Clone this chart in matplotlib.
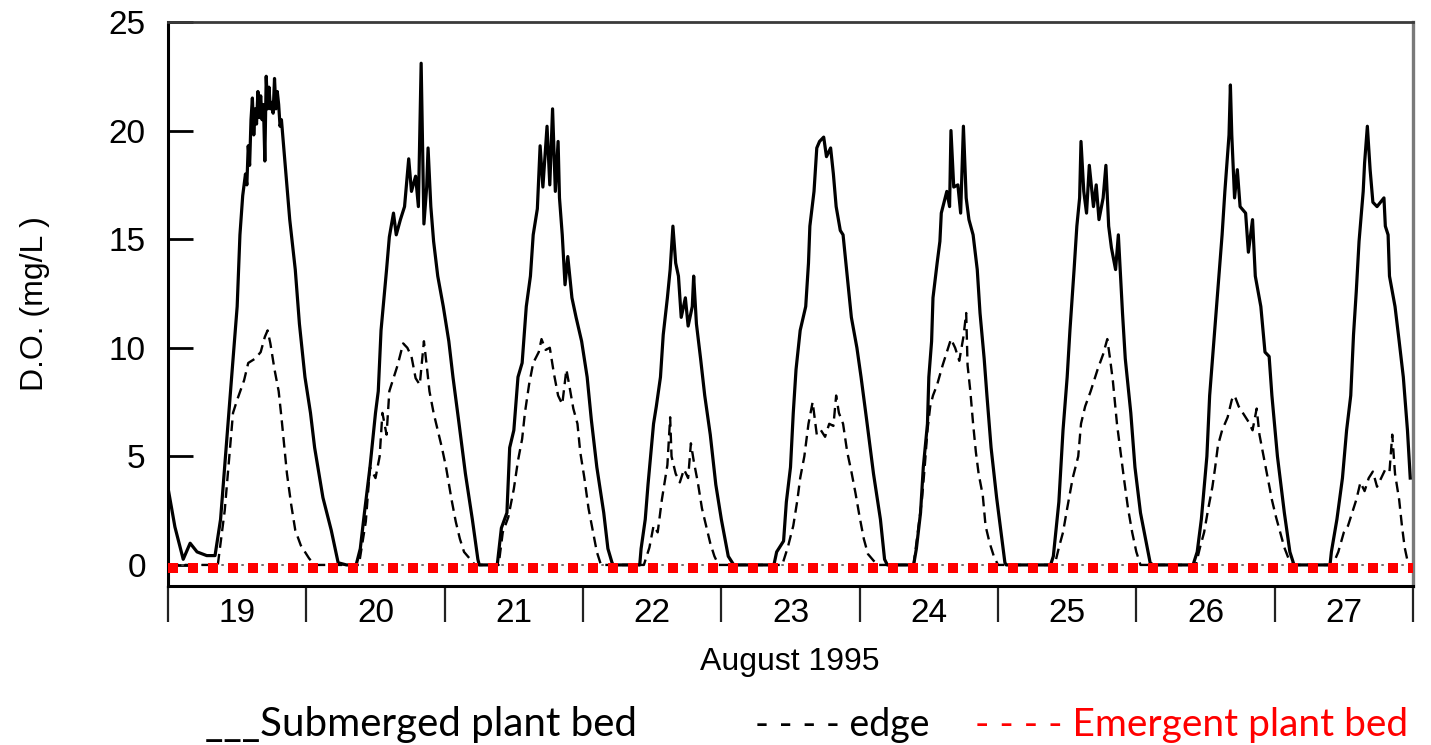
import matplotlib
matplotlib.use("Agg")
import matplotlib.pyplot as plt
from matplotlib.transforms import offset_copy

# ---------------- data (day of August 1995, D.O. mg/L) ----------------
sub_day = [19.00, 19.05, 19.11, 19.16, 19.21, 19.28, 19.34, 19.38, 19.42, 19.46, 19.50, 19.52,
           19.54, 19.56, 19.57, 19.58, 19.59, 19.60, 19.61, 19.62, 19.63, 19.64, 19.65, 19.66, 19.67, 19.68,
           19.69, 19.70, 19.71, 19.72, 19.73, 19.74, 19.75, 19.76, 19.77, 19.78, 19.79, 19.80, 19.81, 19.82,
           19.85, 19.88, 19.92, 19.95,
           19.99, 20.03, 20.06, 20.12, 20.18, 20.23, 20.29, 20.36, 20.39, 20.42, 20.46, 20.50, 20.52, 20.54,
           20.58, 20.60, 20.63, 20.65, 20.68, 20.71, 20.74, 20.76, 20.79, 20.81, 20.83, 20.85, 20.87, 20.88,
           20.90, 20.92, 20.95, 20.99, 21.03, 21.06, 21.10, 21.15, 21.20, 21.24, 21.25, 21.38, 21.41, 21.45,
           21.47, 21.50, 21.53, 21.56, 21.59, 21.62, 21.64, 21.67, 21.69, 21.71, 21.74, 21.76, 21.78, 21.80,
           21.82, 21.83, 21.85, 21.87, 21.89, 21.92, 21.95, 21.99, 22.03, 22.06, 22.10, 22.15, 22.18, 22.21,
           22.22, 22.41, 22.42, 22.45, 22.47, 22.51, 22.53, 22.56, 22.58, 22.61, 22.63, 22.65, 22.67, 22.69,
           22.71, 22.74, 22.76, 22.79, 22.80, 22.82, 22.85, 22.88, 22.92, 22.96, 23.00, 23.05, 23.08, 23.09,
           23.38, 23.40, 23.45, 23.47, 23.50, 23.52, 23.54, 23.57, 23.61, 23.63, 23.64, 23.67, 23.69, 23.71,
           23.74, 23.76, 23.79, 23.81, 23.83, 23.86, 23.88, 23.91, 23.94, 23.98, 24.01, 24.05, 24.10, 24.15,
           24.18, 24.20, 24.39, 24.41, 24.44, 24.46, 24.49, 24.50, 24.52, 24.53, 24.56, 24.58, 24.59, 24.63,
           24.65, 24.66, 24.68, 24.71, 24.73, 24.75, 24.77, 24.79, 24.82, 24.85, 24.87, 24.90, 24.92, 24.95,
           24.99, 25.03, 25.05, 25.06, 25.38, 25.40, 25.44, 25.47, 25.50, 25.52, 25.55, 25.57, 25.59, 25.60,
           25.62, 25.64, 25.66, 25.69, 25.71, 25.73, 25.76, 25.78, 25.80, 25.82, 25.85, 25.87, 25.90, 25.92,
           25.96, 25.99, 26.03, 26.08, 26.10, 26.12, 26.41, 26.44, 26.47, 26.51, 26.53, 26.57, 26.59, 26.62,
           26.64, 26.67, 26.68, 26.69, 26.71, 26.73, 26.75, 26.79, 26.81, 26.84, 26.86, 26.90, 26.93, 26.96,
           26.98, 27.02, 27.07, 27.11, 27.14, 27.40, 27.41, 27.45, 27.49, 27.52, 27.55, 27.57, 27.59, 27.61,
           27.64, 27.65, 27.67, 27.69, 27.71, 27.74, 27.79, 27.80, 27.82, 27.83, 27.87, 27.90, 27.93, 27.96,
           27.98]
sub_do = [3.55, 1.75, 0.26, 1.0, 0.6, 0.43, 0.43, 2.1, 5.4, 8.65, 11.9, 15.2,
          17.0, 18.0, 17.5, 19.3, 18.4, 20.5, 21.5, 19.8, 21.0, 20.3, 21.8, 20.6, 21.6, 20.5,
          21.2, 18.6, 22.5, 21.0, 22.0, 21.0, 21.3, 20.8, 22.4, 21.0, 21.8, 21.2, 20.2, 20.5,
          18.2, 15.9, 13.6, 11.1,
          8.65, 7.0, 5.4, 3.1, 1.6, 0.1, 0.0, 0.0, 0.75, 2.4, 4.5, 7.0, 8.0, 10.8,
          13.6, 15.1, 16.2, 15.2, 15.9, 16.5, 18.7, 17.2, 17.9, 16.5, 23.1, 15.7, 17.4, 19.2,
          16.5, 14.9, 13.3, 11.9, 10.3, 8.65, 6.7, 4.2, 2.1, 0.26, 0.0, 0.0, 1.7, 2.4,
          5.4, 6.2, 8.65, 9.3, 11.9, 13.3, 15.2, 16.4, 19.3, 17.4, 20.2, 17.5, 21.0, 17.2,
          19.5, 16.9, 15.2, 12.9, 14.2, 12.3, 11.4, 10.3, 8.65, 6.7, 4.5, 2.4, 0.75, 0.1,
          0.0, 0.0, 0.75, 2.1, 3.7, 6.5, 7.3, 8.65, 10.6, 12.3, 13.6, 15.6, 13.9, 13.3,
          11.4, 12.3, 11.0, 11.9, 13.3, 11.1, 9.5, 7.8, 6.0, 3.7, 2.1, 0.4, 0.1, 0.0,
          0.0, 0.6, 1.1, 2.9, 4.5, 7.0, 9.0, 10.8, 11.9, 13.9, 15.6, 17.2, 19.2, 19.5,
          19.7, 18.8, 19.2, 18.0, 16.5, 15.4, 15.2, 13.3, 11.4, 10.0, 8.65, 6.7, 4.2, 2.1,
          0.26, 0.0, 0.0, 0.75, 2.4, 4.5, 6.5, 8.65, 10.3, 12.3, 13.9, 14.9, 16.2, 17.2,
          16.5, 20.0, 17.4, 17.5, 16.2, 20.2, 16.9, 15.9, 15.2, 13.6, 11.6, 9.5, 7.8, 5.4,
          3.1, 1.1, 0.1, 0.0, 0.0, 0.4, 2.9, 6.2, 8.65, 10.8, 13.6, 15.6, 16.9, 19.5,
          17.2, 16.2, 18.4, 16.5, 17.5, 15.9, 16.9, 18.4, 15.6, 14.6, 13.6, 15.2, 11.6, 9.5,
          7.0, 4.5, 2.4, 0.75, 0.1, 0.0, 0.0, 0.6, 2.1, 5.0, 7.8, 11.1, 12.8, 15.2,
          17.2, 19.8, 22.1, 19.8, 16.9, 18.2, 16.5, 16.2, 14.4, 15.9, 13.3, 11.9, 9.8, 9.6,
          7.8, 5.0, 2.4, 0.6, 0.0, 0.0, 0.6, 2.1, 4.0, 6.2, 7.8, 10.6, 12.6, 14.9,
          17.2, 18.5, 20.2, 18.2, 16.7, 16.5, 16.9, 15.6, 15.2, 13.3, 11.9, 10.3, 8.65, 6.2,
          4.0]

edge_day = [19.00, 19.36, 19.41, 19.45, 19.47, 19.50, 19.55, 19.58, 19.63, 19.67, 19.70, 19.72, 19.74,
            19.77, 19.80, 19.82, 19.84, 19.86, 19.89, 19.92, 19.96, 20.02, 20.06,
            20.38, 20.43, 20.46, 20.50, 20.53, 20.55, 20.58, 20.60, 20.63, 20.66, 20.70, 20.73, 20.76,
            20.79, 20.82, 20.85, 20.87, 20.89, 20.92, 20.95, 20.98, 21.01, 21.05, 21.08, 21.11, 21.14,
            21.18, 21.22,
            21.39, 21.42, 21.46, 21.50, 21.53, 21.56, 21.58, 21.61, 21.64, 21.68, 21.70, 21.73, 21.76,
            21.79, 21.82, 21.85, 21.88, 21.90, 21.93, 21.96, 21.98, 22.01, 22.04, 22.07, 22.10, 22.13,
            22.44, 22.48, 22.51, 22.54, 22.57, 22.59, 22.61, 22.63, 22.64, 22.67, 22.70, 22.73, 22.76,
            22.78, 22.80, 22.83, 22.86, 22.89, 22.92, 22.95, 22.98,
            23.44, 23.48, 23.52, 23.55, 23.57, 23.60, 23.63, 23.66, 23.69, 23.72, 23.75, 23.78, 23.81,
            23.83, 23.85, 23.88, 23.91, 23.94, 23.97, 24.00, 24.03, 24.06, 24.10, 24.13,
            24.39, 24.42, 24.45, 24.47, 24.49, 24.51, 24.53, 24.56, 24.60, 24.63, 24.66, 24.69, 24.72,
            24.75, 24.77, 24.78, 24.80, 24.82, 24.84, 24.86, 24.89, 24.91, 24.94, 24.97, 25.00,
            25.41, 25.44, 25.47, 25.50, 25.54, 25.58, 25.60, 25.63, 25.67, 25.72, 25.76, 25.79, 25.81,
            25.83, 25.86, 25.89, 25.91, 25.94, 25.97, 26.00, 26.03,
            26.43, 26.46, 26.49, 26.52, 26.55, 26.57, 26.59, 26.62, 26.66, 26.69, 26.71, 26.74, 26.77,
            26.81, 26.84, 26.87, 26.89, 26.92, 26.95, 26.98, 27.01, 27.04, 27.07, 27.10, 27.13,
            27.42, 27.46, 27.50, 27.53, 27.56, 27.59, 27.62, 27.65, 27.68, 27.71, 27.74, 27.77, 27.80,
            27.83, 27.85, 27.87, 27.90, 27.92, 27.94, 27.96, 27.98, 28.00]
edge_do = [0.0, 0.0, 2.5, 5.5, 7.0, 7.6, 8.5, 9.3, 9.5, 9.8, 10.5, 10.8, 10.2,
           9.0, 8.0, 6.8, 5.5, 4.2, 2.8, 1.6, 0.9, 0.3, 0.0,
           0.0, 2.0, 4.5, 4.0, 5.0, 7.0, 6.0, 8.0, 8.6, 9.2, 10.2, 10.0, 9.6,
           8.6, 8.3, 10.3, 9.2, 8.0, 7.0, 6.2, 5.4, 4.5, 3.0, 2.0, 1.2, 0.6,
           0.3, 0.0,
           0.0, 1.5, 2.2, 3.5, 4.8, 5.8, 7.0, 8.3, 9.3, 9.8, 10.4, 9.9, 10.0,
           8.8, 7.8, 7.4, 9.0, 8.3, 7.2, 6.5, 5.2, 4.0, 2.6, 1.6, 0.6, 0.0,
           0.0, 0.8, 1.8, 1.5, 3.0, 3.8, 4.6, 6.8, 5.0, 4.2, 3.8, 4.4, 4.0,
           5.6, 4.8, 3.8, 2.6, 1.8, 1.0, 0.4, 0.0,
           0.0, 0.8, 1.8, 3.0, 4.0, 5.0, 6.5, 7.5, 6.0, 6.2, 5.9, 6.5, 6.4,
           7.8, 7.0, 6.5, 5.2, 4.3, 3.3, 2.2, 1.2, 0.5, 0.2, 0.0,
           0.0, 1.5, 3.0, 4.5, 6.2, 7.3, 7.8, 8.3, 9.2, 9.8, 10.4, 10.0, 9.4,
           10.5, 11.6, 9.2, 8.0, 6.5, 5.2, 4.2, 3.2, 1.8, 1.0, 0.4, 0.0,
           0.0, 0.8, 1.5, 2.6, 4.0, 5.0, 6.5, 7.3, 8.0, 9.0, 9.7, 10.4, 9.5,
           8.5, 6.5, 5.0, 4.0, 2.6, 1.5, 0.6, 0.0,
           0.0, 0.8, 1.5, 2.6, 3.6, 4.5, 5.5, 6.2, 6.8, 7.6, 7.8, 7.3, 7.0,
           6.6, 6.2, 7.2, 6.0, 5.0, 4.0, 3.0, 2.2, 1.5, 0.8, 0.3, 0.0,
           0.0, 0.6, 1.5, 1.8, 2.4, 3.0, 3.8, 3.4, 4.0, 4.3, 3.6, 4.0, 4.4,
           4.3, 6.0, 4.2, 3.0, 1.8, 0.8, 0.2, 0.0, 0.0]

emer_day = [19.0, 28.0]
emer_do = [0.0, 0.0]

day_labels = ["19", "20", "21", "22", "23", "24", "25", "26", "27"]
y_ticks = [0, 5, 10, 15, 20, 25]

# ---------------- figure ----------------
W, H = 1431, 745
fig = plt.figure(figsize=(W / 100, H / 100), dpi=100)
ax = fig.add_axes([168 / W, 1 - 586 / H, (1413 - 168) / W, (586 - 22) / H])

AX_FONT = "Liberation Sans"

ax.plot(edge_day, edge_do, color="black", lw=1.7, ls=(0, (4.5, 2.6)), zorder=3)
ax.plot(sub_day, sub_do, color="black", lw=2.3, zorder=4)
ax.plot(emer_day, emer_do, color="#555555", lw=1.2, ls=(0, (1.5, 2.5)), zorder=2)
red_tr = offset_copy(ax.transData, fig=fig, x=0, y=-3, units="dots")
ax.plot(emer_day, emer_do, color="#ff0000", lw=7.2, ls=(0, (1, 1)),
        dash_capstyle="butt", transform=red_tr, zorder=6)

ax.set_xlim(19, 28)
ax.set_ylim(-0.97, 25)

# x axis: day boundaries as ticks, labels centred on each day
ax.set_xticks(list(range(19, 29)))
ax.set_xticks([i + 19.5 for i in range(len(day_labels))], minor=True)
ax.set_xticklabels(day_labels, minor=True, fontsize=24, family=AX_FONT)
ax.tick_params(axis="x", which="major", direction="out", length=26, width=1.6,
               labelbottom=False, color="#222222")
ax.tick_params(axis="x", which="minor", length=0, pad=9)

ax.set_yticks(y_ticks)
ax.set_yticklabels([str(v) for v in y_ticks], fontsize=24, family=AX_FONT)
ax.tick_params(axis="y", direction="in", length=18, width=2.0, pad=16)

for side, col, lw in [("left", "black", 2.2), ("bottom", "black", 2.2),
                      ("top", "#3a3a3a", 2.0), ("right", "#7a7a7a", 2.4)]:
    ax.spines[side].set_color(col)
    ax.spines[side].set_linewidth(lw)

fig.text(35 / W, 1 - 304 / H, "D.O. (mg/L )", rotation=90, ha="center", va="center",
         fontsize=23, family=AX_FONT)
fig.text(790 / W, 1 - 662 / H, "August 1995", ha="center", va="center",
         fontsize=23, family=AX_FONT)

LEG_FONT = ["Lato", "DejaVu Sans"]
base_y = 1 - 736 / H
fig.text(205 / W, base_y, "___Submerged plant bed", ha="left", va="baseline",
         fontsize=29, family=LEG_FONT, color="black")
fig.text(755 / W, base_y, "- - - - edge", ha="left", va="baseline",
         fontsize=27, family=LEG_FONT, color="black")
fig.text(975 / W, base_y, "- - - - Emergent plant bed", ha="left", va="baseline",
         fontsize=28, family=LEG_FONT, color="#ff0000")

fig.savefig("out.png", dpi=100)
